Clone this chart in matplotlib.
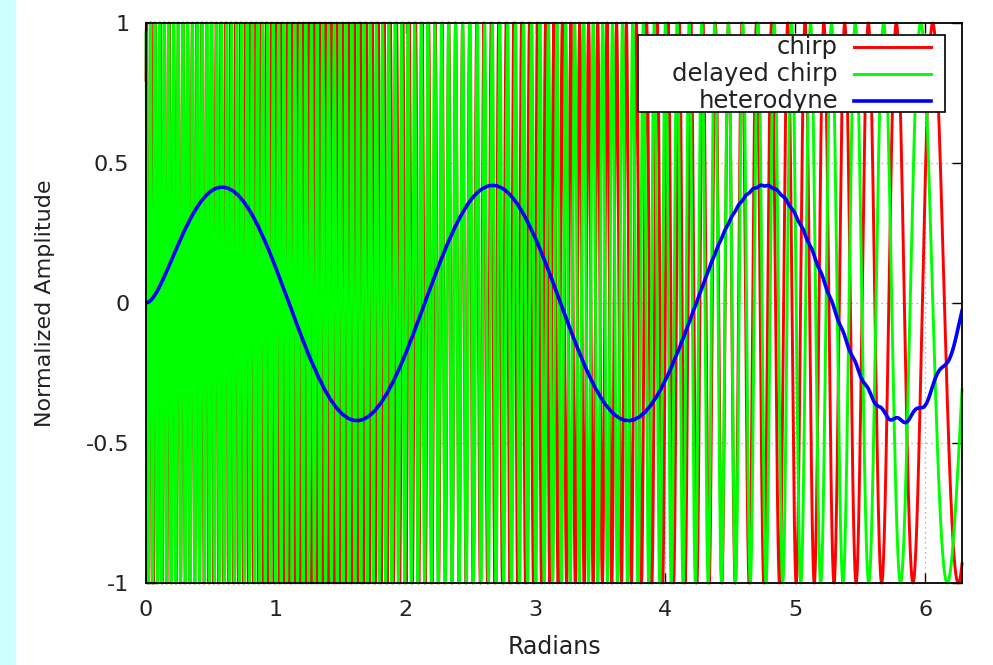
import numpy as np
import matplotlib.pyplot as plt
from matplotlib.patches import Rectangle

# linear chirp: its frequency falls along x
CHIRP_F0 = 182.8       # rad per rad at x = 0
CHIRP_SLOPE = 27.1     # drop of that frequency per radian
CHIRP_PHASE = -0.65
DELAY = 0.1109         # offset of the delayed copy
DELAY_PHASE = -0.34
LOWPASS = 6.88         # corner of the two-pole smoothing of the product
N_SAMPLES = 20001

X_TICKS = [0, 1, 2, 3, 4, 5, 6]
Y_TICKS = [-1, -0.5, 0, 0.5, 1]
Y_TICK_LABELS = ["-1", "-0.5", "0", "0.5", "1"]
SERIES = ["chirp", "delayed chirp", "heterodyne"]
COLORS = ["#ff0000", "#00ff00", "#0000ff"]


def phase(t):
    return CHIRP_F0 * t - 0.5 * CHIRP_SLOPE * t ** 2 + CHIRP_PHASE


x = np.linspace(0, 2 * np.pi, N_SAMPLES)
chirp = np.cos(phase(x))
delayed = np.cos(phase(x + DELAY) + DELAY_PHASE)

# heterodyne = product of the two, smoothed by two one-pole low-pass stages
mix = chirp * delayed
alpha = 1 - np.exp(-LOWPASS * (x[1] - x[0]))
het = mix
for _ in range(2):
    out = np.empty_like(het)
    y = 0.0
    for i, v in enumerate(het):
        y += alpha * (v - y)
        out[i] = y
    het = out

fig = plt.figure(figsize=(9.93, 6.65), dpi=100)
fig.add_artist(Rectangle((0, 0), 15 / 993, 1, transform=fig.transFigure,
                         color="#ccffff", zorder=0))
ax = fig.add_axes([146 / 993, 82 / 665, 816 / 993, 560 / 665])

# dotted grid behind the curves
for t in X_TICKS[1:]:
    ax.axvline(t, color="#a0a0a0", lw=0.9, ls=(0, (1, 3)), zorder=0)
for t in Y_TICKS[1:-1]:
    ax.axhline(t, color="#a0a0a0", lw=0.9, ls=(0, (1, 3)), zorder=0)

ax.plot(x, chirp, color=COLORS[0], lw=2.1, clip_on=False, zorder=2)
ax.plot(x, delayed, color=COLORS[1], lw=2.1, clip_on=False, zorder=2.1)
ax.plot(x, het, color=COLORS[2], lw=2.6, zorder=2.2)

ax.set_xlim(0, 2 * np.pi)
ax.set_ylim(-1, 1)
ax.set_xticks(X_TICKS)
ax.set_yticks(Y_TICKS)
ax.set_yticklabels(Y_TICK_LABELS)
ax.tick_params(direction="in", length=7, width=1, top=True, right=True,
               labelsize=16, pad=12, labelcolor="#222222")
for s in ax.spines.values():
    s.set_linewidth(1.3)
    s.set_zorder(3)

ax.set_xlabel("Radians", fontsize=17, labelpad=11, color="#222222")
ax.set_ylabel("Normalized Amplitude", fontsize=16, labelpad=22, color="#222222")

# gnuplot style key: text right aligned, sample line after it
ax.add_patch(Rectangle((0.603, 0.841), 0.376, 0.1375, transform=ax.transAxes,
                       facecolor="white", edgecolor="black", lw=1.2, zorder=5))
rows = [0.957, 0.909, 0.861]
widths = [2.1, 2.1, 2.6]
for label, color, yy, w in zip(SERIES, COLORS, rows, widths):
    ax.text(0.848, yy, label, transform=ax.transAxes, ha="right", va="center",
            fontsize=17.5, color="#222222", zorder=6)
    ax.plot([0.868, 0.962], [yy, yy], transform=ax.transAxes, color=color,
            lw=w, zorder=6)

fig.savefig("out.png", dpi=100)
